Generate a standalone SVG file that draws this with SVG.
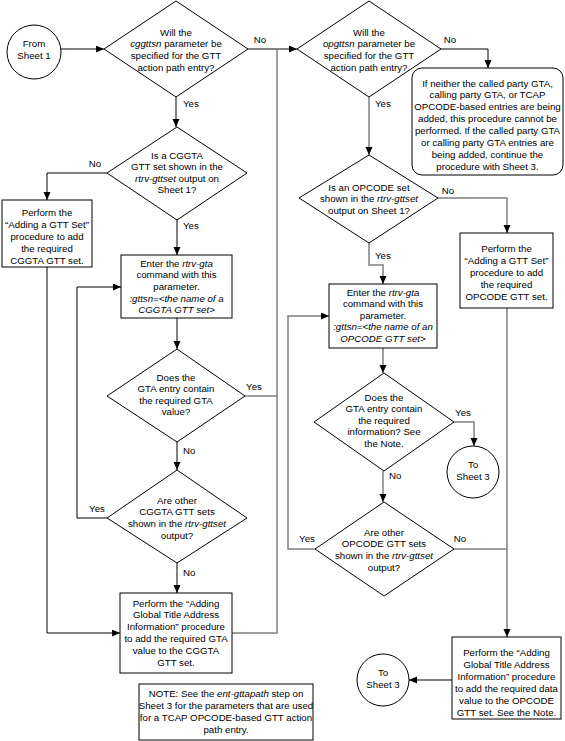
<svg xmlns="http://www.w3.org/2000/svg" width="565" height="741" viewBox="0 0 565 741">
<defs>
<marker id="ah" markerWidth="9" markerHeight="8" refX="8" refY="3.5" orient="auto" markerUnits="userSpaceOnUse">
<path d="M0,0 L8,3.5 L0,7 z" fill="#000"/>
</marker>
<style>
.s{fill:#fff;stroke:#000;stroke-width:1}
.c{fill:none;stroke:#000;stroke-width:1}
.g{fill:none;stroke:#808080;stroke-width:1.5}
text{font-family:"Liberation Sans",Arial,sans-serif;font-size:9.7px;fill:#000;text-anchor:middle}
.l{text-anchor:start}
.i{font-style:italic}
</style>
</defs>
<rect width="565" height="741" fill="#fff"/>
<g id="connectors">
<path class="c" d="M61,49 H104" marker-end="url(#ah)"/>
<path class="c" d="M248,49 H297" marker-end="url(#ah)"/>
<path class="g" d="M277,49 V633 H232"/>
<path class="c" d="M441,49 H488 V68" marker-end="url(#ah)"/>
<path class="c" d="M176,97 V127" marker-end="url(#ah)"/>
<path class="c" d="M107,173 H47 V200" marker-end="url(#ah)"/>
<path class="c" d="M47,267 V633 H120" marker-end="url(#ah)"/>
<path class="c" d="M177,220 V255" marker-end="url(#ah)"/>
<path class="c" d="M107,518 H77 V287 H121" marker-end="url(#ah)"/>
<path class="c" d="M177,318 V349" marker-end="url(#ah)"/>
<path class="g" d="M245,396 H277"/>
<path class="c" d="M177,442 V470" marker-end="url(#ah)"/>
<path class="c" d="M177,563 V593" marker-end="url(#ah)"/>
<path class="g" d="M369,97 V155" marker-end="url(#ah)"/>
<path class="g" d="M438,198 H507 V233" marker-end="url(#ah)"/>
<path class="g" d="M507,308 V637" marker-end="url(#ah)"/>
<path class="g" d="M369,243 V265 H383 V284" marker-end="url(#ah)"/>
<path class="g" d="M315,549 H288 V316 H329" marker-end="url(#ah)"/>
<path class="g" d="M383,348 V373" marker-end="url(#ah)"/>
<path class="g" d="M454,422 H474 V446" marker-end="url(#ah)"/>
<path class="g" d="M383,471 V502" marker-end="url(#ah)"/>
<path class="g" d="M454,549 H507"/>
<path class="c" d="M452,680 H409" marker-end="url(#ah)"/>
<text x="260" y="42.5">No</text>
<text x="183" y="106.5" class="l">Yes</text>
<text x="95" y="166.5">No</text>
<text x="183" y="228.5" class="l">Yes</text>
<text x="254" y="389.5">Yes</text>
<text x="183" y="453.5" class="l">No</text>
<text x="97" y="511.5">Yes</text>
<text x="183" y="575.5" class="l">No</text>
<text x="450" y="42.5">No</text>
<text x="375" y="106.5" class="l">Yes</text>
<text x="448" y="193.5">No</text>
<text x="375" y="258.5" class="l">Yes</text>
<text x="463" y="415.5">Yes</text>
<text x="389" y="478.5" class="l">No</text>
<text x="307" y="541.5">Yes</text>
<text x="460" y="541.5">No</text>
</g>
<g id="start">
<circle class="s" cx="34" cy="52" r="27"/>
<text x="34" y="46.5">From</text>
<text x="34" y="58.5">Sheet 1</text>
</g>
<g id="d-cggttsn">
<polygon class="s" points="176,1 248,49 176,97 104,49"/>
<text x="176" y="35.5">Will the</text>
<text x="176" y="47.2"><tspan class="i">cggttsn</tspan> parameter be</text>
<text x="176" y="58.9">specified for the GTT</text>
<text x="176" y="70.6">action path entry?</text>
</g>
<g id="d-opgttsn">
<polygon class="s" points="369,1 441,49 369,97 297,49"/>
<text x="369" y="35.5">Will the</text>
<text x="369" y="47.2"><tspan class="i">opgttsn</tspan> parameter be</text>
<text x="369" y="58.9">specified for the GTT</text>
<text x="369" y="70.6">action path entry?</text>
</g>
<g id="n-neither">
<rect class="s" x="412" y="68" width="151" height="107" rx="10"/>
<text x="487.5" y="86.5">If neither the called party GTA,</text>
<text x="487.5" y="98.4">calling party GTA, or TCAP</text>
<text x="487.5" y="110.3">OPCODE-based entries are being</text>
<text x="487.5" y="122.2">added, this procedure cannot be</text>
<text x="487.5" y="134.1">performed. If the called party GTA</text>
<text x="487.5" y="146">or calling party GTA entries are</text>
<text x="487.5" y="157.9">being added, continue the</text>
<text x="487.5" y="169.8">procedure with Sheet 3.</text>
</g>
<g id="d-cggta-set">
<polygon class="s" points="177,127 247,173 177,220 107,173"/>
<text x="177" y="158.5">Is a CGGTA</text>
<text x="177" y="170">GTT set shown in the</text>
<text x="177" y="181.5"><tspan class="i">rtrv-gttset</tspan> output on</text>
<text x="177" y="193">Sheet 1?</text>
</g>
<g id="b-add-cggta-set">
<rect class="s" x="2" y="200" width="90" height="67"/>
<text x="47" y="215.5">Perform the</text>
<text x="47" y="227.5">“Adding a GTT Set”</text>
<text x="47" y="239.5">procedure to add</text>
<text x="47" y="251.5">the required</text>
<text x="47" y="263.5">CGGTA GTT set.</text>
</g>
<g id="b-rtrv-cggta">
<rect class="s" x="121" y="255" width="111" height="63"/>
<text x="176.5" y="266.5">Enter the <tspan class="i">rtrv-gta</tspan></text>
<text x="176.5" y="278.2">command with this</text>
<text x="176.5" y="289.9">parameter.</text>
<text x="176.5" y="301.6" class="i">:gttsn=&lt;the name of a</text>
<text x="176.5" y="313.3" class="i">CGGTA GTT set&gt;</text>
</g>
<g id="d-gta-value">
<polygon class="s" points="177,349 245,396 177,442 107,396"/>
<text x="176" y="380.5">Does the</text>
<text x="176" y="392">GTA entry contain</text>
<text x="176" y="403.5">the required GTA</text>
<text x="176" y="415">value?</text>
</g>
<g id="d-other-cggta">
<polygon class="s" points="177,470 247,518 177,563 107,518"/>
<text x="177" y="503.5">Are other</text>
<text x="177" y="515.2">CGGTA GTT sets</text>
<text x="177" y="526.9">shown in the <tspan class="i">rtrv-gttset</tspan></text>
<text x="177" y="538.6">output?</text>
</g>
<g id="b-add-gta-cggta">
<rect class="s" x="120" y="593" width="112" height="80"/>
<text x="176" y="606.5">Perform the “Adding</text>
<text x="176" y="618.3">Global Title Address</text>
<text x="176" y="630.1">Information” procedure</text>
<text x="176" y="641.9">to add the required GTA</text>
<text x="176" y="653.7">value to the CGGTA</text>
<text x="176" y="665.5">GTT set.</text>
</g>
<g id="note">
<rect class="s" x="139" y="684" width="174" height="56"/>
<text x="226" y="696.5">NOTE: See the <tspan class="i">ent-gttapath</tspan> step on</text>
<text x="226" y="708.5">Sheet 3 for the parameters that are used</text>
<text x="226" y="720.5">for a TCAP OPCODE-based GTT action</text>
<text x="226" y="732.5">path entry.</text>
</g>
<g id="d-opcode-set">
<polygon class="s" points="369,155 438,198 369,243 299,198"/>
<text x="369" y="190.5">Is an OPCODE set</text>
<text x="369" y="202">shown in the <tspan class="i">rtrv-gttset</tspan></text>
<text x="369" y="213.5">output on Sheet 1?</text>
</g>
<g id="b-add-opcode-set">
<rect class="s" x="460" y="233" width="93" height="75"/>
<text x="506.5" y="251.5">Perform the</text>
<text x="506.5" y="263.5">“Adding a GTT Set”</text>
<text x="506.5" y="275.5">procedure to add</text>
<text x="506.5" y="287.5">the required</text>
<text x="506.5" y="299.5">OPCODE GTT set.</text>
</g>
<g id="b-rtrv-opcode">
<rect class="s" x="329" y="284" width="108" height="64"/>
<text x="383" y="295.5">Enter the <tspan class="i">rtrv-gta</tspan></text>
<text x="383" y="306.8">command with this</text>
<text x="383" y="318.5">parameter.</text>
<text x="383" y="330.2" class="i">:gttsn=&lt;the name of an</text>
<text x="383" y="341.9" class="i">OPCODE GTT set&gt;</text>
</g>
<g id="d-opcode-info">
<polygon class="s" points="384,373 454,422 384,471 314,422"/>
<text x="384" y="400.5">Does the</text>
<text x="384" y="412">GTA entry contain</text>
<text x="384" y="423.5">the required</text>
<text x="384" y="435">information? See</text>
<text x="384" y="446.5">the Note.</text>
</g>
<g id="c-sheet3-a">
<circle class="s" cx="473" cy="472" r="26"/>
<text x="473" y="468">To</text>
<text x="473" y="480">Sheet 3</text>
</g>
<g id="d-other-opcode">
<polygon class="s" points="384,502 454,549 384,596 315,549"/>
<text x="384" y="535.5">Are other</text>
<text x="384" y="547.2">OPCODE GTT sets</text>
<text x="384" y="558.9">shown in the <tspan class="i">rtrv-gttset</tspan></text>
<text x="384" y="570.6">output?</text>
</g>
<g id="b-add-gta-opcode">
<rect class="s" x="452" y="637" width="109" height="82"/>
<text x="506.5" y="655.5">Perform the “Adding</text>
<text x="506.5" y="667.5">Global Title Address</text>
<text x="506.5" y="679.5">Information” procedure</text>
<text x="506.5" y="691.5">to add the required data</text>
<text x="506.5" y="703.5">value to the OPCODE</text>
<text x="506.5" y="715.5">GTT set. See the Note.</text>
</g>
<g id="c-sheet3-b">
<circle class="s" cx="383" cy="680" r="26"/>
<text x="383" y="676">To</text>
<text x="383" y="688">Sheet 3</text>
</g>
</svg>
